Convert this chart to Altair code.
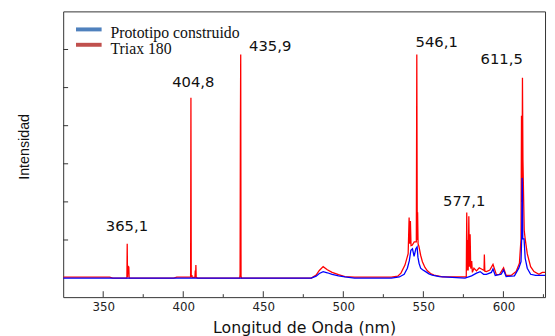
import altair as alt
import pandas as pd

# ---------------- data ----------------
RED_WL = [325, 354, 356, 364.8, 365.0, 365.2, 365.5, 366.0, 366.2, 394, 396, 404.6, 404.8, 405.0, 405.4, 405.6,
          407.3, 407.5, 407.7, 407.9, 408.1, 409, 435.3, 435.5, 435.7, 435.9, 436.1, 436.4, 480, 483, 485, 487.4,
          490, 493, 497, 501, 507, 530, 534, 536, 538.5, 540.5, 541.1, 541.5, 541.9, 542.3, 543.0, 544.3, 545.6,
          545.9, 546.2, 546.4, 546.7, 547.3, 548.3, 549.4, 551.0, 552.5, 554.5, 556.6, 562, 576.8, 577.1, 577.4,
          577.7, 578.0, 578.4, 578.8, 579.2, 579.6, 580.2, 580.6, 581.6, 583.2, 584.9, 586.3, 587.9, 588.1, 588.4,
          589.4, 591.5, 593.5, 595.6, 597.6, 600.1, 601.7, 604.8, 607.9, 610.0, 611.0, 611.3, 611.6, 611.9, 612.2,
          613.0, 613.6, 614.9, 617.0, 619.1, 622.2, 624.3, 626]
RED_I = [0.025, 0.025, 0.0, 0.0, 0.90, 0.02, 0.31, 0.29, 0.0, 0.0, 0.025, 0.025, 4.73, 0.03, 0.08, 0.02,
         0.02, 0.20, 0.02, 0.34, 0.02, 0.0, 0.0, 0.10, 3.95, 5.87, 0.05, 0.0, 0.0, 0.08, 0.20, 0.30,
         0.22, 0.15, 0.09, 0.04, 0.025, 0.025, 0.05, 0.13, 0.34, 0.64, 1.59, 0.90, 1.50, 0.85, 0.86, 0.95, 0.95,
         5.87, 1.00, 1.73, 0.90, 0.82, 0.60, 0.43, 0.28, 0.19, 0.12, 0.08, 0.03, 0.03, 1.72, 0.20,
         1.00, 0.20, 1.62, 0.30, 1.15, 0.25, 0.45, 0.15, 0.26, 0.19, 0.27, 0.24, 0.20, 0.62, 0.18,
         0.17, 0.21, 0.36, 0.09, 0.10, 0.27, 0.07, 0.07, 0.17, 0.39, 1.03, 4.26, 2.00, 5.26, 3.10,
         1.25, 1.03, 0.64, 0.30, 0.17, 0.10, 0.15, 0.15]

BLUE_WL = [325, 480, 483, 485, 487.4, 490, 493, 497, 501, 507, 530, 535, 538, 540, 541.2, 542.2, 543.2, 544.2,
           545.3, 546.1, 546.6, 547.3, 548.3, 549.5, 551.4, 553.5, 555.5, 560, 576, 580.1, 583.2, 585.5, 587.6,
           589.4, 592.5, 593.5, 594.9, 598.6, 600.1, 601.7, 606.9, 609.6, 611.0, 611.4, 611.7, 611.9, 612.1,
           612.9, 613.6, 614.9, 617.0, 620.1, 626]
BLUE_I = [0.0, 0.0, 0.05, 0.12, 0.17, 0.14, 0.10, 0.06, 0.03, 0.0, 0.0, 0.03, 0.10, 0.26, 0.45, 0.73, 0.77, 0.57,
          0.77, 0.82, 0.55, 0.39, 0.26, 0.22, 0.17, 0.11, 0.08, 0.04, 0.0, 0.06, 0.13, 0.17, 0.10,
          0.10, 0.15, 0.24, 0.07, 0.10, 0.21, 0.04, 0.06, 0.26, 0.43, 1.03, 2.63, 2.20, 1.03,
          1.03, 0.52, 0.26, 0.10, 0.07, 0.07]

PEAK_TEXT = ["365,1", "404,8", "435,9", "546,1", "577,1", "611,5"]
PEAK_X = [364.8, 406.3, 454.3, 558.3, 575.5, 598.9]
PEAK_Y = [1.355, 5.14, 6.10, 6.20, 2.01, 5.76]

X_TICKS = [350, 400, 450, 500, 550, 600]
X_MINOR = [375, 425, 475, 525, 575, 625]
Y_TICKS = [1, 2, 3, 4, 5, 6]

LEGEND_LABELS = ["Prototipo construido", "Triax 180"]
LEGEND_COLORS = ["#4f81bd", "#c0504d"]

W, H = 489, 290

# ---------------- encodings ----------------
X_ENC = alt.X(
    "wl:Q",
    scale=alt.Scale(domain=[325, 626], nice=False, zero=False),
    axis=alt.Axis(values=X_TICKS, ticks=False, domain=False, grid=False,
                  labelFont="DejaVu Sans", labelFontSize=12, labelColor="#222", labelPadding=5,
                  title="Longitud de Onda (nm)", titleFont="DejaVu Sans", titleFontSize=16,
                  titleFontWeight="normal", titleColor="#111", titleY=31, titleBaseline="middle"),
)
Y_ENC = alt.Y(
    "inten:Q",
    scale=alt.Scale(domain=[-0.5, 7], nice=False, zero=False),
    axis=alt.Axis(labels=False, ticks=False, domain=False, grid=False,
                  title="Intensidad", titleFont="Liberation Sans Narrow, Liberation Sans",
                  titleFontSize=14.5, titleFontWeight="normal", titleColor="#111",
                  titleX=-39.5, titleY=137, titleAngle=270, titleBaseline="middle", titleAlign="center"),
)

red_df = pd.DataFrame({"wl": RED_WL, "inten": RED_I})
blue_df = pd.DataFrame({"wl": BLUE_WL, "inten": BLUE_I})
peak_df = pd.DataFrame({"wl": PEAK_X, "inten": PEAK_Y, "t": PEAK_TEXT})

red = alt.Chart(red_df).mark_line(color="#ff0000", strokeWidth=1.3, clip=True).encode(x=X_ENC, y=Y_ENC)
blue = alt.Chart(blue_df).mark_line(color="#0000ff", strokeWidth=1.3, clip=True).encode(x=X_ENC, y=Y_ENC)
peaks = alt.Chart(peak_df).mark_text(font="DejaVu Sans", fontSize=15, color="#111",
                                     align="center", baseline="middle").encode(x=X_ENC, y=Y_ENC, text="t:N")

xmaj = alt.Chart(pd.DataFrame({"wl": X_TICKS})).mark_rule(color="#333", strokeWidth=1).encode(
    x=X_ENC, y=alt.value(H), y2=alt.value(H - 6))
xmin = alt.Chart(pd.DataFrame({"wl": X_MINOR})).mark_rule(color="#333", strokeWidth=1).encode(
    x=X_ENC, y=alt.value(H), y2=alt.value(H - 3))
yt = alt.Chart(pd.DataFrame({"inten": Y_TICKS})).mark_rule(color="#333", strokeWidth=1).encode(
    y=Y_ENC, x=alt.value(0), x2=alt.value(5))

layers = [red, blue, peaks, xmaj, xmin, yt]
for i, (lab, col) in enumerate(zip(LEGEND_LABELS, LEGEND_COLORS)):
    one = pd.DataFrame({"lab": [lab]})
    layers.append(alt.Chart(one).mark_rule(color=col, strokeWidth=4).encode(
        x=alt.value(13), x2=alt.value(39), y=alt.value(18.3 + 15.6 * i)))
    layers.append(alt.Chart(one).mark_text(font="Liberation Serif", fontSize=16, color="#111",
                                           align="left", baseline="alphabetic").encode(
        x=alt.value(48), y=alt.value(26.7 + 17.0 * i), text="lab:N"))

chart = alt.layer(*layers).properties(
    width=W, height=H,
    autosize=alt.AutoSizeParams(type="none"),
    padding={"left": 56, "top": 1, "right": 2, "bottom": 37},
).configure_view(stroke="#333", strokeWidth=1)

chart.save("out.html", embed_options={"renderer": "svg", "actions": False})
